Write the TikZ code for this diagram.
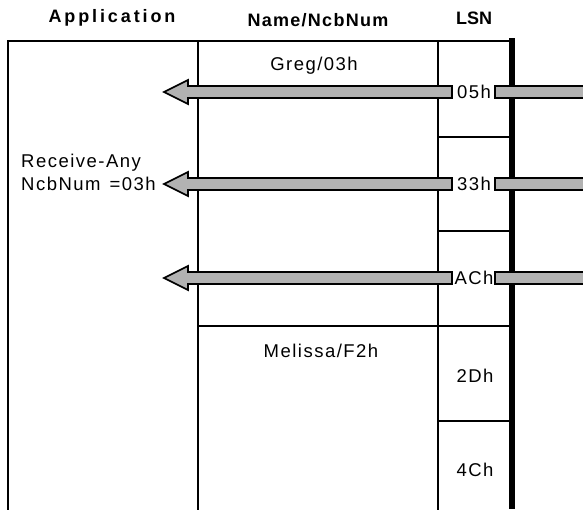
\documentclass[tikz,border=0pt]{standalone}
\usepackage{fontspec}
\setmainfont{Liberation Sans}
\begin{document}
\begin{tikzpicture}[x=1pt,y=-1pt,
  grid/.style={line width=1.4pt,line cap=rect},
  thickbar/.style={line width=6pt},
  hdr/.style={font=\fontsize{18}{21}\selectfont\bfseries},
  txt/.style={font=\fontsize{18.5}{22}\selectfont\addfontfeature{LetterSpace=8}},
  fat/.style={draw=black,line width=1.6pt,fill=black!30,line join=miter}]
\useasboundingbox (0,0) rectangle (583,509);
% headers
\node[hdr] (h1) at (112,18) {\addfontfeature{LetterSpace=16}Application};
\node[hdr] (h2) at (318,20) {\addfontfeature{LetterSpace=7}Name/NcbNum};
\node[hdr] (h3) at (474,18) {LSN};
% frame
\draw[grid] (8,509) -- (8,41) -- (512,41);
\draw[grid] (198,41) -- (198,509);
\draw[grid] (438,41) -- (438,509);
\draw[grid] (438,137) -- (512,137);
\draw[grid] (438,231) -- (512,231);
\draw[grid] (198,326) -- (512,326);
\draw[grid] (438,421) -- (512,421);
\draw[thickbar] (512,38) -- (512,509);
% texts
\node[txt] (greg) at (314,66) {Greg/03h};
\node[txt] (mel) at (321,351) {Melissa/F2h};
\node[txt,anchor=west,inner sep=0pt] (ra) at (21,163) {Receive-Any};
\node[txt,anchor=west,inner sep=0pt] (nn) at (21,184) {NcbNum\hspace{9pt}=03h};
\node[txt] (l2d) at (475,376) {2Dh};
\node[txt] (l4c) at (475,470) {4Ch};
\foreach \nm/\lab/\yy in {a/05h/92,b/33h/184,c/ACh/278}{
  \node[txt,inner sep=0pt] (\nm) at (474,\yy) {\lab};
  \draw[fat] (164,\yy) -- (188,\yy-12) -- (188,\yy-6) -- (452,\yy-6)
     -- (452,\yy+6) -- (188,\yy+6) -- (188,\yy+12) -- cycle;
  \draw[fat] (590,\yy-6) -- (495,\yy-6) -- (495,\yy+6) -- (590,\yy+6);
}
\end{tikzpicture}
\end{document}
